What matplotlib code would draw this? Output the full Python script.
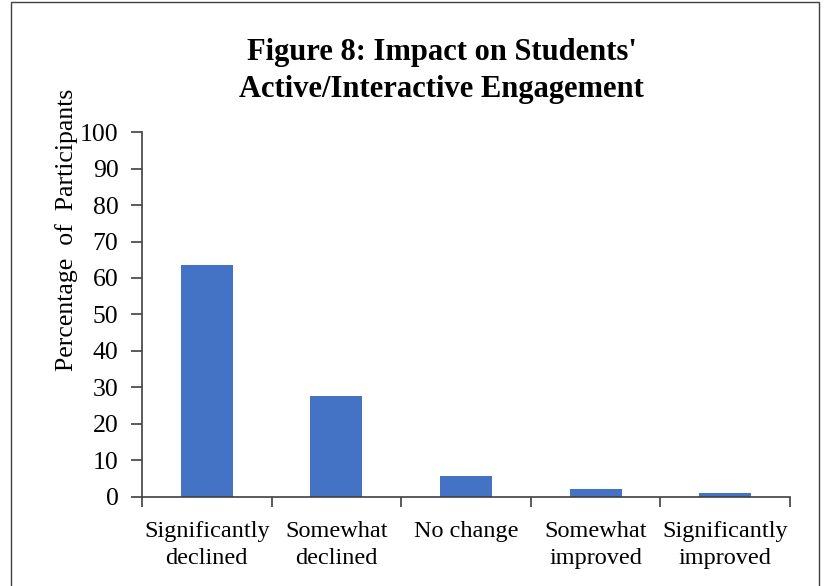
import matplotlib.pyplot as plt
from matplotlib.patches import Rectangle
from matplotlib.ticker import FixedLocator

# Survey responses: impact on active/interactive engagement
categories = ['Significantly\ndeclined', 'Somewhat\ndeclined', 'No change',
              'Somewhat\nimproved', 'Significantly\nimproved']
percentages = [63.5, 27.5, 5.5, 2.0, 1.0]
y_ticks = [0, 10, 20, 30, 40, 50, 60, 70, 80, 90, 100]

plt.rcParams['font.family'] = ['Liberation Serif', 'DejaVu Serif']

fig = plt.figure(figsize=(8.26, 5.86), dpi=100)
ax = fig.add_axes([0.1719, 0.1527, 0.7845, 0.6215])

x = range(len(categories))
ax.bar(x, percentages, width=0.4, color='#4472C4', zorder=2)

ax.set_xlim(-0.5, len(categories) - 0.5)
ax.set_ylim(0, 100)
ax.set_yticks(y_ticks)
ax.set_xticks(list(x))
ax.set_xticklabels(categories, fontsize=17.5, linespacing=1.4)
ax.xaxis.set_minor_locator(FixedLocator([i - 0.5 for i in range(len(categories) + 1)]))

ax.tick_params(axis='x', which='major', length=0, pad=17.5)
ax.tick_params(axis='x', which='minor', length=7, width=1.2, color='#404040', direction='out')
ax.tick_params(axis='y', length=8, width=1.2, color='#404040', direction='out',
               labelsize=18.5, pad=9)

for side in ['top', 'right']:
    ax.spines[side].set_visible(False)
for side in ['left', 'bottom']:
    ax.spines[side].set_color('#404040')
    ax.spines[side].set_linewidth(1.2)

ax.set_ylabel('Percentage  of  Participants', fontsize=18.5)
ax.yaxis.set_label_coords(-0.098, 0.732)

fig.text(0.535, 0.879, "Figure 8: Impact on Students'\nActive/Interactive Engagement",
         ha='center', va='center', fontsize=22, fontweight='bold', linespacing=1.4)

# chart frame
fig.patches.append(Rectangle((11 / 826, -0.05), 808 / 826, 1.05 - 2 / 586,
                             transform=fig.transFigure, fill=False,
                             edgecolor='#404040', linewidth=1))

fig.savefig('out.png', dpi=100)
